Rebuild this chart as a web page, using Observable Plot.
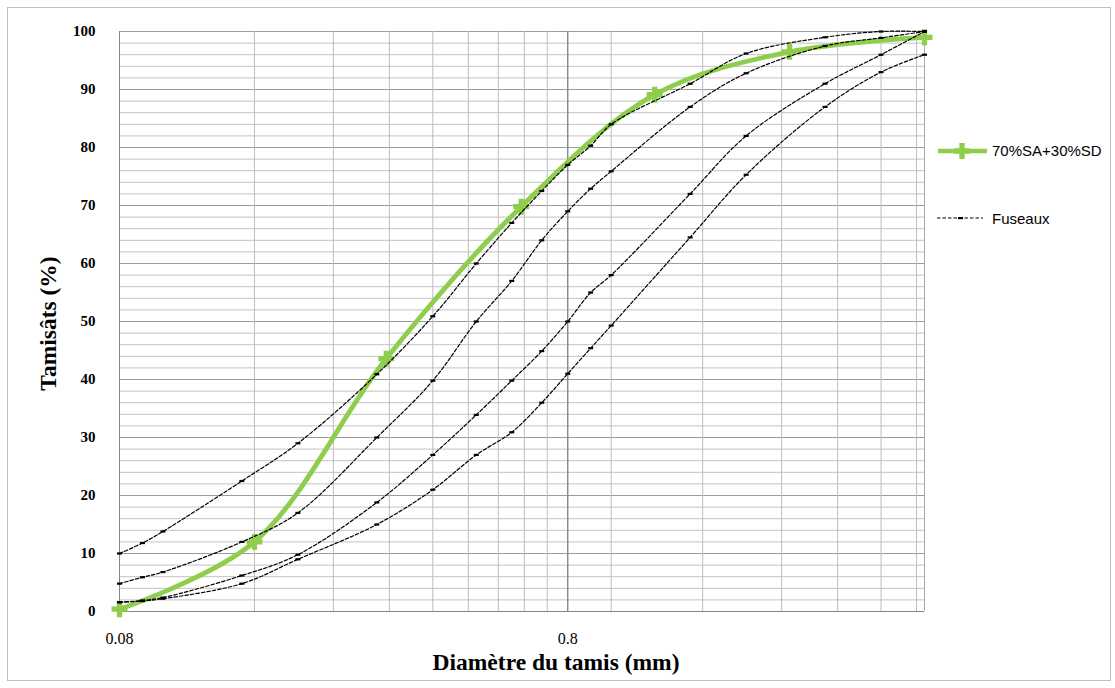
<!DOCTYPE html>
<html>
<head>
<meta charset="utf-8">
<script src="https://cdn.jsdelivr.net/npm/d3@7"></script>
<script src="https://cdn.jsdelivr.net/npm/@observablehq/plot@0.6"></script>
<style>
  body { margin: 0; background: #fff; }
  #wrap { position: relative; width: 1115px; height: 688px; overflow: hidden; background: #fff; }
  #border { position: absolute; left: 7px; top: 7px; width: 1102px; height: 672px; border: 1px solid #bfbfbf; pointer-events: none; }
  #chart { position: absolute; left: 0; top: 0; }
  #legend { position: absolute; left: 930px; top: 130px; }
</style>
</head>
<body>
<div id="wrap">
  <div id="border"></div>
  <div id="chart"></div>
  <svg id="legend" width="185" height="110" xmlns="http://www.w3.org/2000/svg"></svg>
</div>
<script>
// ---- Data ----
const sieves = [0.08, 0.16, 0.315, 0.63, 1.25, 2.5, 5];
const mix = [0.4, 12, 43.6, 69.8, 89.1, 96.5, 99];
const mixName = "70%SA+30%SD";

const fuseauX = [0.08, 0.09, 0.1, 0.15, 0.2, 0.3, 0.4, 0.5, 0.6, 0.7, 0.8, 0.9, 1, 1.5, 2, 3, 4, 5];
const fuseauA = [10, 11.8, 13.8, 22.5, 29, 40.9, 50.9, 60, 67, 72.5, 77, 80.3, 84, 91, 96.2, 99, 100, 100];
const fuseauB = [4.8, 5.9, 6.8, 12, 17, 30, 39.8, 50, 57, 64, 69, 72.9, 75.9, 87, 92.8, 97.5, 98.9, 100];
const fuseauC = [1.6, 1.9, 2.4, 6.2, 9.8, 18.8, 27, 33.9, 39.8, 44.9, 50, 55, 58, 72, 82, 91, 96, 100];
const fuseauD = [1.6, 1.8, 2.2, 4.8, 9, 15, 21, 27, 30.9, 36, 41, 45.4, 49.3, 64.5, 75.3, 87, 93, 96];
const fuseauName = "Fuseaux";

const xTicks = [0.08, 0.8];
const xGridMinor = [0.16, 0.24, 0.32, 0.4, 0.48, 0.56, 0.64, 0.72, 1, 1.6, 2.4, 3.2, 4, 4.8];
const xGridMajor = [0.8];
const yTicks = [0, 10, 20, 30, 40, 50, 60, 70, 80, 90, 100];
const yGridMinor = d3.range(2, 100, 2).filter(v => v % 10 !== 0);
const yGridMajor = [10, 20, 30, 40, 50, 60, 70, 80, 90, 100];

const xTitle = "Diamètre du tamis (mm)";
const yTitle = "Tamisâts (%)";

// ---- Tables ----
const mixData = sieves.map((x, i) => ({x, y: mix[i]}));
const fuseaux = [fuseauA, fuseauB, fuseauC, fuseauD].flatMap((arr, k) =>
  fuseauX.map((x, i) => ({x, y: arr[i], s: "F" + k})));

const GREEN = "#8fce4c";
const dashSymbol = { draw(ctx) { ctx.rect(-2.5, -1.1, 5, 2.2); } };
const serif = "'Liberation Serif', 'Times New Roman', serif";

const chart = Plot.plot({
  width: 1115,
  height: 688,
  marginLeft: 119,
  marginRight: 191,
  marginTop: 31,
  marginBottom: 77,
  style: { fontFamily: serif, background: "transparent", overflow: "visible", color: "#000" },
  x: { type: "log", domain: [0.08, 5], axis: null },
  y: { domain: [0, 100], axis: null },
  marks: [
    Plot.ruleY(yGridMinor, { stroke: "#c2c2c2", strokeWidth: 1 }),
    Plot.ruleY(yGridMajor, { stroke: "#9c9c9c", strokeWidth: 1 }),
    Plot.ruleX(xGridMinor, { stroke: "#bdbdbd", strokeWidth: 1 }),
    Plot.ruleX(xGridMajor, { stroke: "#858585", strokeWidth: 1 }),
    Plot.ruleX([5], { stroke: "#aaaaaa", strokeWidth: 1 }),
    Plot.ruleX([0.08], { stroke: "#858585", strokeWidth: 1 }),
    Plot.ruleY([0], { stroke: "#858585", strokeWidth: 1 }),
    Plot.axisY({ ticks: yTicks, tickSize: 0, tickPadding: 24, fontSize: 15, fontWeight: "bold", fontFamily: serif, label: null }),
    // x axis: tick marks and labels
    Plot.tickX(xTicks, { x: d => d, y1: 0, y2: -1.25, stroke: "#858585" }),
    Plot.text(xTicks, { x: d => d, text: d => String(d), frameAnchor: "bottom", lineAnchor: "middle", dy: 27, fontSize: 16, fontFamily: serif, fill: "#000" }),
    // mix curve
    Plot.line(mixData, { x: "x", y: "y", stroke: GREEN, strokeWidth: 4.8, curve: "catmull-rom" }),
    Plot.dot(mixData, { x: "x", y: "y", symbol: "cross", r: 6.7, fill: GREEN, stroke: "none" }),
    // fuseaux
    Plot.line(fuseaux, { x: "x", y: "y", z: "s", stroke: "#000", strokeWidth: 1.2, strokeDasharray: "3.5,2", curve: "catmull-rom" }),
    Plot.dot(fuseaux, { x: "x", y: "y", symbol: dashSymbol, r: 2, fill: "#000", stroke: "none" }),
    // titles
    Plot.text([xTitle], { frameAnchor: "bottom", lineAnchor: "middle", textAnchor: "middle", dx: 34, dy: 51, fontSize: 23.5, fontWeight: "bold", fontFamily: serif, fill: "#000" }),
    Plot.text([yTitle], { frameAnchor: "left", lineAnchor: "middle", textAnchor: "middle", dx: -71, dy: 2, rotate: -90, fontSize: 23.5, fontWeight: "bold", fontFamily: serif, fill: "#000" })
  ]
});
document.getElementById("chart").appendChild(chart);

// ---- Legend ----
const lg = d3.select("#legend");
const sans = "'Liberation Sans', Arial, sans-serif";
lg.append("line").attr("x1", 8).attr("x2", 57).attr("y1", 21).attr("y2", 21)
  .attr("stroke", GREEN).attr("stroke-width", 4.5);
lg.append("path").attr("transform", "translate(32,21)")
  .attr("d", d3.symbol(d3.symbolCross, 6.7 * 6.7 * Math.PI)()).attr("fill", GREEN);
lg.append("text").attr("x", 62).attr("y", 21).attr("dy", "0.35em")
  .attr("font-family", sans).attr("font-size", 15).text(mixName);
lg.append("line").attr("x1", 7).attr("x2", 53).attr("y1", 88).attr("y2", 88)
  .attr("stroke", "#000").attr("stroke-width", 1.2).attr("stroke-dasharray", "3.5,2");
lg.append("rect").attr("x", 28).attr("y", 87).attr("width", 5).attr("height", 2.2).attr("fill", "#000");
lg.append("text").attr("x", 62).attr("y", 89).attr("dy", "0.35em")
  .attr("font-family", sans).attr("font-size", 15).text(fuseauName);
</script>
</body>
</html>
